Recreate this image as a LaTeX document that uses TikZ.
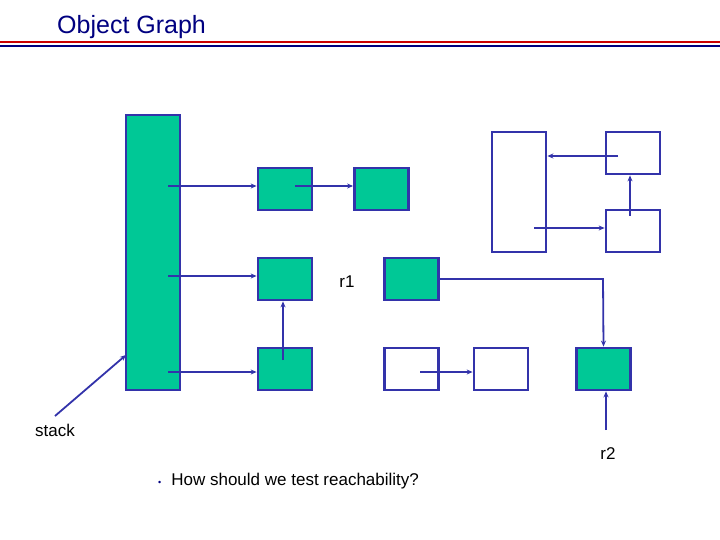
\documentclass[tikz,border=0pt]{standalone}
\usepackage{fontspec}
\setmainfont{Liberation Sans}
\usetikzlibrary{arrows.meta}
\definecolor{obj}{RGB}{0,200,150}
\definecolor{edge}{RGB}{51,51,170}
\definecolor{navy}{RGB}{0,0,128}
\begin{document}
\begin{tikzpicture}[x=1pt,y=-1pt,
  box/.style={draw=edge,line width=2.8pt,inner sep=0pt,minimum width=54pt,minimum height=42pt},
  g/.style={box,fill=obj},
  w/.style={box,fill=white},
  ar/.style={draw=edge,line width=1.8pt,-{Stealth[length=6pt,width=5pt]}},
  lab/.style={font=\fontsize{17pt}{20pt}\selectfont,inner sep=0pt}]
\useasboundingbox (0,0) rectangle (720,540);
\node[anchor=west,text=navy,font=\fontsize{25pt}{30pt}\selectfont,inner sep=0pt] (title) at (57,27) {Object Graph};
\draw[red!80!black,line width=2pt] (0,42.5) -- (720,42.5);
\draw[navy,line width=2pt] (0,46) -- (720,46);
\node[g,minimum width=54pt,minimum height=275pt] (stack) at (153,252.5) {};
\node[g] (A) at (285,189) {};
\node[g] (B) at (381.5,189) {};
\node[g] (C) at (285,279) {};
\node[g] (D) at (411.5,279) {};
\node[g] (E) at (285,369) {};
\node[w] (F) at (411.5,369) {};
\node[w] (G) at (501,369) {};
\node[g] (H) at (603.5,369) {};
\node[w,minimum height=120pt] (I) at (519,192) {};
\node[w] (J) at (633,153) {};
\node[w] (K) at (633,231) {};
\coordinate (s1) at (168,186);
\coordinate (s2) at (168,276);
\coordinate (s3) at (168,372);
\coordinate (a1) at (295,186);
\coordinate (f1) at (420,372);
\coordinate (j1) at (618,156);
\coordinate (i1) at (534,228);
\coordinate (k1) at (630,216);
\coordinate (e1) at (283,360);
\draw[ar] (s1) -- (s1 -| A.west);
\draw[ar] (a1) -- (a1 -| B.west);
\draw[ar] (s2) -- (s2 -| C.west);
\draw[ar] (s3) -- (s3 -| E.west);
\draw[ar] (e1) -- (e1 |- C.south);
\draw[ar] (D.east) -- (603,279) -- (H.north);
\draw[ar] (f1) -- (f1 -| G.west);
\draw[ar] (j1) -- (j1 -| I.east);
\draw[ar] (i1) -- (i1 -| K.west);
\draw[ar] (k1) -- (k1 |- J.south);
\node[lab] (r1) at (347,282) {r1};
\node[lab] (r2) at (608,454) {r2};
\coordinate (r2t) at (606,430);
\draw[ar] (r2t) -- (r2t |- H.south);
\node[lab] (st) at (55,430) {stack};
\coordinate (stt) at (55,416);
\coordinate (stb) at (126,355);
\draw[ar] (stt) -- (stb);
\node[lab,anchor=west] (q) at (158,481) {\textcolor{navy}{\small\textbullet}\hspace{10pt}How should we test reachability?};
\end{tikzpicture}
\end{document}
